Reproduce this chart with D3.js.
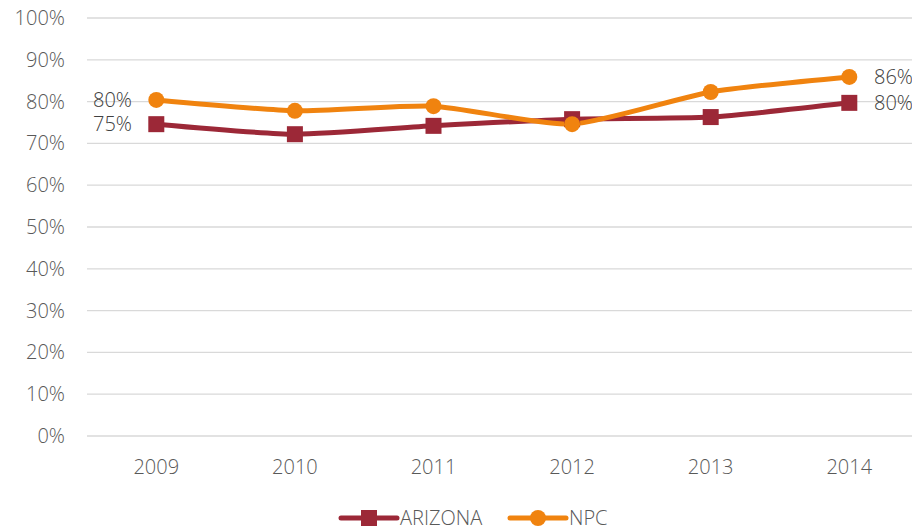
<!DOCTYPE html>
<html>
<head>
<meta charset="utf-8">
<script src="https://cdn.jsdelivr.net/npm/d3@7"></script>
<style>
  body { margin: 0; background: #fff; }
  svg { display: block; font-family: "Open Sans", sans-serif; font-weight: 300; }
</style>
</head>
<body>
<div id="chart"></div>
<script>
const years = ["2009", "2010", "2011", "2012", "2013", "2014"];
const arizona = [0.746, 0.722, 0.742, 0.758, 0.763, 0.797];
const npc = [0.804, 0.778, 0.789, 0.746, 0.823, 0.859];
const yTicks = [0, 0.1, 0.2, 0.3, 0.4, 0.5, 0.6, 0.7, 0.8, 0.9, 1.0];

const W = 912, H = 530;
const svg = d3.select("#chart").append("svg")
  .attr("width", W).attr("height", H);

const x = d3.scaleBand().domain(years).range([87, 918.6]);
const y = d3.scaleLinear().domain([0, 1]).range([436, 18]);
const fmt = d3.format(".0%");
const fs = 20;

// gridlines
svg.append("g").selectAll("line").data(yTicks).enter().append("line")
  .attr("x1", 87).attr("x2", W)
  .attr("y1", d => y(d)).attr("y2", d => y(d))
  .attr("stroke", "#d9d9d9").attr("stroke-width", 1.3);

// y labels
svg.append("g").selectAll("text").data(yTicks).enter().append("text")
  .attr("x", 65).attr("y", d => y(d)).attr("dy", "0.35em")
  .attr("text-anchor", "end").attr("font-size", fs).attr("fill", "#595959")
  .text(fmt);

// x labels
svg.append("g").selectAll("text").data(years).enter().append("text")
  .attr("x", d => x(d) + x.bandwidth() / 2).attr("y", 467).attr("dy", "0.35em")
  .attr("text-anchor", "middle").attr("font-size", fs).attr("fill", "#595959")
  .text(d => d);

const cx = d => x(d) + x.bandwidth() / 2;
const line = d3.line().x((d, i) => cx(years[i])).y(d => y(d)).curve(d3.curveCardinal.tension(0.4));

const series = [
  {name: "ARIZONA", values: arizona, color: "#9c2837", marker: "square"},
  {name: "NPC", values: npc, color: "#f0830f", marker: "circle"}
];

series.forEach(s => {
  svg.append("path").datum(s.values)
    .attr("d", line).attr("fill", "none")
    .attr("stroke", s.color).attr("stroke-width", 5).attr("stroke-linejoin", "round");
});

function drawMarker(g, s, px, py) {
  if (s.marker === "square") {
    g.append("rect").attr("x", px - 8).attr("y", py - 8).attr("width", 16).attr("height", 16)
      .attr("fill", s.color);
  } else {
    g.append("circle").attr("cx", px).attr("cy", py).attr("r", 8).attr("fill", s.color);
  }
}

series.forEach(s => {
  const g = svg.append("g");
  s.values.forEach((v, i) => drawMarker(g, s, cx(years[i]), y(v)));
});

// data labels at ends
series.forEach(s => {
  const first = s.values[0], last = s.values[s.values.length - 1];
  svg.append("text").attr("x", 132).attr("y", y(first)).attr("dy", "0.35em")
    .attr("text-anchor", "end").attr("font-size", fs).attr("fill", "#404040")
    .text(fmt(first));
  svg.append("text").attr("x", 874).attr("y", y(last)).attr("dy", "0.35em")
    .attr("font-size", fs).attr("fill", "#404040")
    .text(fmt(last));
});

// legend
const legend = [
  {s: series[0], x: 341},
  {s: series[1], x: 510}
];
legend.forEach(l => {
  const g = svg.append("g");
  g.append("line").attr("x1", l.x).attr("x2", l.x + 56).attr("y1", 518).attr("y2", 518)
    .attr("stroke", l.s.color).attr("stroke-width", 5).attr("stroke-linecap", "round");
  drawMarker(g, l.s, l.x + 28, 518);
  g.append("text").attr("x", l.x + 59).attr("y", 518).attr("dy", "0.35em")
    .attr("font-size", fs).attr("fill", "#595959").text(l.s.name);
});
</script>
</body>
</html>
